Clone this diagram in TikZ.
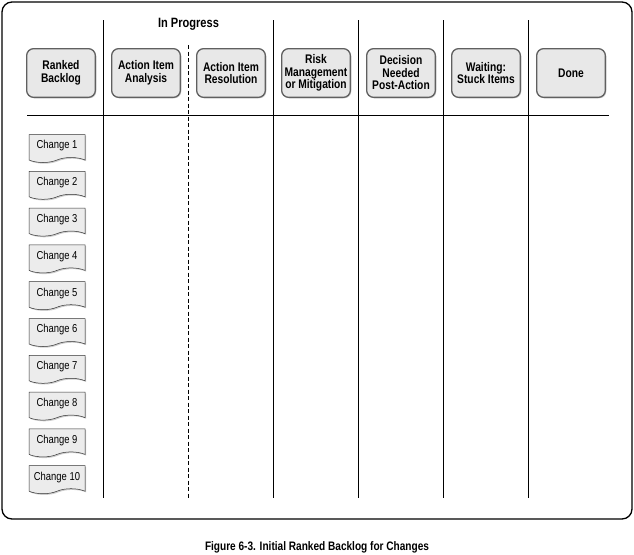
\documentclass[tikz,border=0pt]{standalone}
\usepackage{fontspec}
\setmainfont{Liberation Sans}
\newfontfamily\condfont[FakeStretch=0.82]{Liberation Sans}
\usetikzlibrary{positioning,shapes.symbols,shadows,calc}

\tikzset{
  stage/.style={draw=gray!75!black, line width=1.3pt, fill=gray!18, rounded corners=7pt,
    minimum width=68.7pt, minimum height=48.7pt, align=center, inner sep=1pt,
    font=\condfont\bfseries\fontsize{12.5}{12.5}\selectfont, drop shadow={opacity=0.35, shadow xshift=1pt, shadow yshift=-1pt}},
  card/.style={tape, tape bend top=none, tape bend height=5pt, draw=black!80, line width=0.5pt, fill=gray!15,
    minimum width=56pt, minimum height=28pt, inner sep=1pt,
    font=\condfont\fontsize{11.5}{12}\selectfont, drop shadow={opacity=0.4, shadow xshift=1.2pt, shadow yshift=-1.2pt}},
  divider/.style={line width=0.8pt},
}

\begin{document}
\begin{tikzpicture}[x=1pt, y=-1pt]
  \useasboundingbox (0,0) rectangle (634,554);
  % Board frame
  \draw[line width=1.3pt, rounded corners=10pt] (2,2) rectangle (632,519);

  % Column headers
  \node[stage] (backlog) at (61,73) {Ranked\\Backlog};
  \node[stage, right=15pt of backlog] (analysis) {Action Item\\Analysis};
  \node[stage, right=15pt of analysis] (resolution) {Action Item\\Resolution};
  \node[stage, right=15pt of resolution] (risk) {Risk\\Management\\or Mitigation};
  \node[stage, right=15pt of risk] (decision) {Decision\\Needed\\Post-Action};
  \node[stage, right=15pt of decision] (waiting) {Waiting:\\Stuck Items};
  \node[stage, right=15pt of waiting] (done) {Done};

  % Column dividers
  \foreach \l/\r in {backlog/analysis, resolution/risk, risk/decision, decision/waiting, waiting/done}{
    \coordinate (top-\l) at ($(\l.east)!0.5!(\r.west)$);
    \draw[divider] (top-\l |- 0,20) -- (top-\l |- 0,498);
  }
  \coordinate (mid) at ($(analysis.east)!0.5!(resolution.west)$);
  \draw[divider, dashed, dash pattern=on 4pt off 2.5pt] (mid |- 0,45) -- (mid |- 0,498);
  \node[font=\condfont\bfseries\fontsize{13.5}{13}\selectfont] (inprogress) at (mid |- 0,24) {In Progress};

  % Header rule
  \coordinate (rule-l) at (27,115);
  \coordinate (rule-r) at (609,115);
  \draw[divider] (rule-l) -- (rule-r);

  % Backlog cards
  \node[card] (c1) at (57,146) {Change 1};
  \foreach \i [evaluate=\i as \p using int(\i-1)] in {2,...,10}
    \node[card, below=13.3pt of c\p] (c\i) {Change \i};

  % Caption
  \node[font=\condfont\bfseries\fontsize{12.3}{12}\selectfont] (caption) at (317,547) {Figure 6-3. Initial Ranked Backlog for Changes};
\end{tikzpicture}
\end{document}
